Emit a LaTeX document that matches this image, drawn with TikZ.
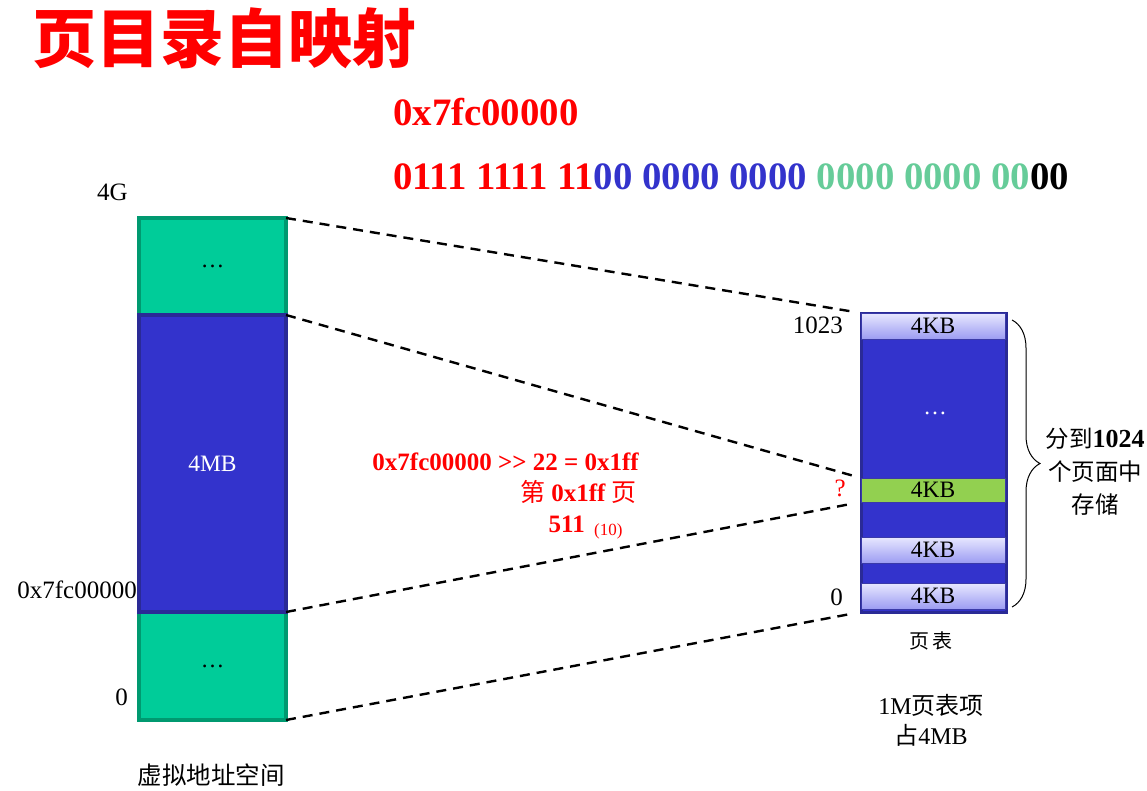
\documentclass[tikz,border=0pt]{standalone}
\usepackage{fontspec}
\setmainfont{Liberation Serif}
\newfontfamily\cjk{Noto Sans CJK SC}
\usetikzlibrary{decorations.pathreplacing}
\definecolor{vgreen}{HTML}{00CC99}
\definecolor{vgreenb}{HTML}{009970}
\definecolor{vblue}{HTML}{3333CC}
\definecolor{vblueb}{HTML}{2A2A96}
\definecolor{bgreen}{HTML}{66CC99}
\definecolor{celltop}{HTML}{E8E8FF}
\definecolor{cellbot}{HTML}{9C9CF2}
\definecolor{cellb}{HTML}{3A3AA8}
\definecolor{pgreen}{HTML}{92D050}
\tikzset{
  vblk/.style={draw, line width=4pt, minimum width=147pt, inner sep=0pt, outer sep=0pt},
  cell/.style={draw=cellb, line width=1pt, top color=celltop, bottom color=cellbot, minimum width=144pt, minimum height=26pt, inner sep=0pt, outer sep=0pt},
  lbl/.style={inner sep=0pt, anchor=east, font=\fontsize{25}{25}\selectfont},
  link/.style={line width=2.4pt, dash pattern=on 10pt off 7pt, shorten >=8pt},
  redtxt/.style={text=red, inner sep=0pt, font=\bfseries\fontsize{25}{28}\selectfont}
}

\begin{document}
\begin{tikzpicture}[x=1pt, y=-1pt, font=\fontsize{23.5}{26}\selectfont]
\useasboundingbox (0,0) rectangle (1147,790);
\node[text=red, font=\cjk\bfseries\fontsize{64}{64}\selectfont] (title) at (224,38) {页目录自映射};
\node[anchor=base west, inner sep=0pt, text=red, font=\bfseries\fontsize{38.8}{38.8}\selectfont] (hexaddr) at (393,125) {0x7fc00000};
\node[anchor=base west, inner sep=0pt, font=\bfseries\fontsize{38.8}{38.8}\selectfont] (binaddr) at (393,189) {\textcolor{red}{0111 1111 11}\textcolor{vblue}{00 0000 0000} \textcolor{bgreen}{0000 0000 00}00};
\node[vblk, fill=vgreen, draw=vgreenb, minimum height=97pt] (vtop) at (212.5,266.5) {\ldots};
\node[vblk, fill=vgreen, draw=vgreenb, minimum height=108pt] (vbot) at (212.5,666) {\ldots};
\node[vblk, fill=vblue, draw=vblueb, minimum height=297pt, text=white] (vmid) at (212.5,463.5) {4MB};
\node[lbl] (l4g) at (128,192) {4G};
\node[lbl] (laddr) at (137,590) {0x7fc00000};
\node[lbl] (lzero) at (128,697) {0};
\node[font=\cjk\fontsize{24.5}{24.5}\selectfont] (vname) at (211,775) {虚拟地址空间};
\node[draw=vblueb, line width=3pt, fill=vblue, minimum width=145pt, minimum height=299pt, inner sep=0pt, outer sep=0pt] (ptab) at (933.5,462.5) {};
\node[text=white] (tdots) at (935,413) {\ldots};
\node[cell] (c1023) at (933,326) {4KB};
\node[cell, top color=pgreen, bottom color=pgreen, minimum height=24pt] (cmid) at (933,490) {4KB};
\node[cell] (cone) at (933,550) {4KB};
\node[cell] (czero) at (933,596) {4KB};
\node[lbl] (r1023) at (843,325) {1023};
\node[lbl] (rzero) at (843,597) {0};
\node[lbl, text=red] (rq) at (846,488) {?};
\draw[link] (vtop.north east) -- (c1023.north west);
\draw[link] (vmid.north east) -- (cmid.north west);
\draw[link] (vmid.south east) -- (cmid.south west);
\draw[link] (vbot.south east) -- (ptab.south west);
\coordinate (btop) at (1012,320);
\coordinate (bbot) at (1012,607);
\draw[decorate, decoration={brace, amplitude=28pt}, line width=1pt] (btop) -- (bbot);
\node[align=center, font=\cjk\fontsize{23.5}{33}\selectfont] (brlbl) at (1095,472) {分到{\rmfamily\bfseries\fontsize{26}{26}\selectfont 1024}\\个页面中\\存储};
\node[font=\cjk\fontsize{20}{20}\selectfont] (tname) at (931,641) {页\,表};
\node[align=center, font=\fontsize{24}{30}\selectfont] (tsize) at (931,720) {1M{\cjk 页表项}\\{\cjk 占}4MB};
\node[redtxt, anchor=east] (m1) at (639,462) {0x7fc00000 >{}> 22 = 0x1ff};
\node[redtxt, anchor=east] (m2) at (637,492) {{\cjk\mdseries 第} 0x1ff {\cjk\mdseries 页}};
\node[redtxt, anchor=east] (m3) at (585,524) {511};
\node[text=red, inner sep=0pt, anchor=west, font=\fontsize{17}{17}\selectfont] (m4) at (594,531) {(10)};
\end{tikzpicture}
\end{document}
